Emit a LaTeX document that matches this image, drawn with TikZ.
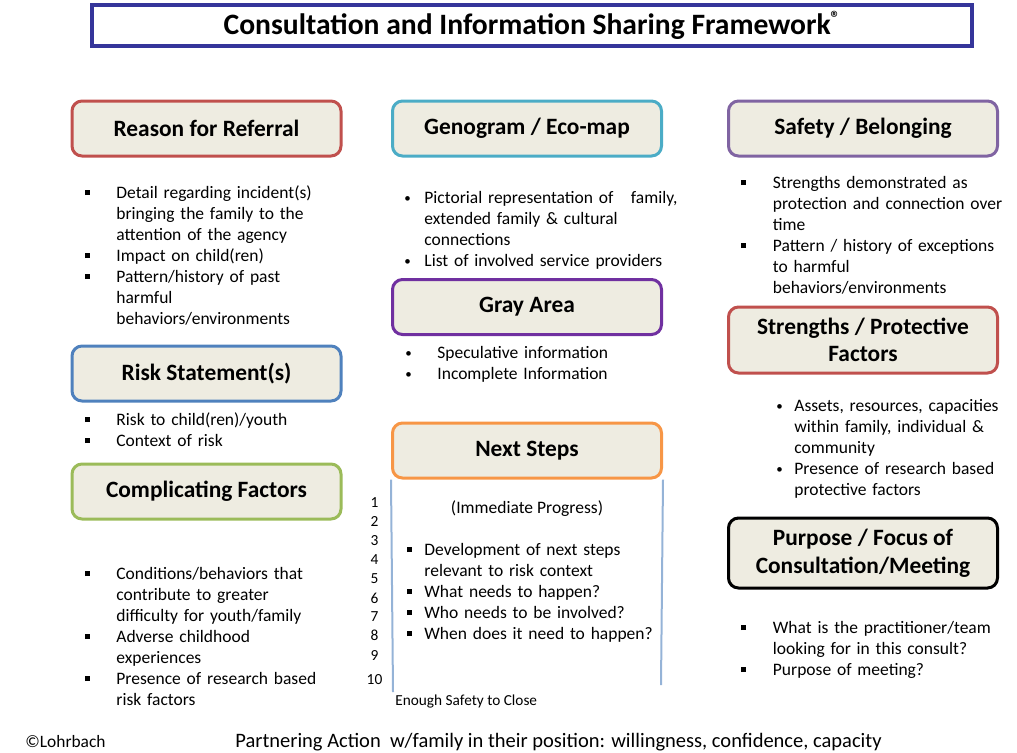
\documentclass[tikz,border=0pt]{standalone}
\usepackage{fontspec}
\setmainfont{Carlito}
\usetikzlibrary{positioning}

\definecolor{boxfill}{HTML}{EEECE1}
\definecolor{redline}{HTML}{C0504D}
\definecolor{aqualine}{HTML}{4BACC6}
\definecolor{purpleline}{HTML}{8064A2}
\definecolor{violetline}{HTML}{7030A0}
\definecolor{blueline}{HTML}{4F81BD}
\definecolor{greenline}{HTML}{9BBB59}
\definecolor{orangeline}{HTML}{F79646}
\definecolor{titleline}{HTML}{35359A}
\definecolor{stepline}{HTML}{95B3D7}

\newlength{\bgap}
\newcommand{\sqbul}{\rule[1.5pt]{2.5pt}{2.5pt}}
\newcommand{\rdbul}{\raisebox{0.5pt}{\fontsize{6.5}{6.5}\selectfont\textbullet}}
\newcommand{\nl}{\unskip\break}
\newcommand{\entry}[2]{\noindent\hangindent=\bgap\hangafter=1\makebox[\bgap][l]{#1}#2\par}

\begin{document}
\begin{tikzpicture}[x=0.5pt, y=-0.5pt]
		\tikzstyle{title_box} = [rectangle, draw=titleline, line width=2pt, minimum width=440pt, minimum height=20.5pt, inner sep=0pt, font=\fontsize{14.8}{17}\selectfont\bfseries]
		\tikzstyle{header_box} = [rectangle, rounded corners=5pt, draw, line width=1.5pt, fill=boxfill, minimum width=134.5pt, minimum height=27.5pt, inner sep=0pt, align=center, font=\fontsize{11.7}{13.75}\selectfont\bfseries]
		\tikzstyle{item_list} = [anchor=base west, inner sep=0pt, text width=160pt, align=left, font=\fontsize{8.75}{10.5}\selectfont]
		\tikzstyle{scale_num} = [inner sep=0pt, font=\fontsize{7.7}{9}\selectfont]
		\tikzstyle{scale_rule} = [draw=stepline, line width=1pt]
		\tikzstyle{foot_text} = [anchor=base west, inner sep=0pt]

		\useasboundingbox (0,0) rectangle (1017,752);

		% Title
		\node (title) [title_box] at (532,25.5) {Consultation and Information Sharing Framework\raisebox{5pt}{\fontsize{9.5}{10}\selectfont\textregistered}};

		% Left column
		\node (referral) [header_box, draw=redline] at (206.5,128.5) {Reason for Referral};
		\node (referral_list) [item_list] at (85,198) {\setlength{\bgap}{15.5pt}%
			\entry{\sqbul}{Detail regarding incident(s)\nl bringing the family to the\nl attention of the agency}%
			\entry{\sqbul}{Impact on child(ren)}%
			\entry{\sqbul}{Pattern/history of past\nl harmful\nl behaviors/environments}};
		\node (risk) [header_box, draw=blueline] at (206.5,373.5) {Risk Statement(s)};
		\node (risk_list) [item_list] at (85,425) {\setlength{\bgap}{15.5pt}%
			\entry{\sqbul}{Risk to child(ren)/youth}%
			\entry{\sqbul}{Context of risk}};
		\node (complicating) [header_box, draw=greenline] at (206.5,491.5) {Complicating Factors};
		\node (complicating_list) [item_list] at (85,579) {\setlength{\bgap}{15.5pt}%
			\entry{\sqbul}{Conditions/behaviors that\nl contribute to greater\nl difficulty for youth/family}%
			\entry{\sqbul}{Adverse childhood\nl experiences}%
			\entry{\sqbul}{Presence of research based\nl risk factors}};

		% Middle column
		\node (genogram) [header_box, draw=aqualine] at (527,128.5) {Genogram / Eco-map};
		\node (genogram_list) [item_list] at (404,203) {\setlength{\bgap}{10pt}%
			\entry{\rdbul}{Pictorial representation of~~~family,\nl extended family \& cultural\nl connections}%
			\entry{\rdbul}{List of involved service providers}};
		\node (gray) [header_box, draw=violetline] at (527,307) {Gray Area};
		\node (gray_list) [item_list] at (405,358) {\setlength{\bgap}{16pt}%
			\entry{\rdbul}{Speculative information}%
			\entry{\rdbul}{Incomplete Information}};
		\node (next) [header_box, draw=orangeline] at (527,450.5) {Next Steps};
		\node (next_sub) [anchor=base, inner sep=0pt, font=\fontsize{8.75}{10.5}\selectfont] at (527,513) {(Immediate Progress)};
		\node (next_list) [item_list] at (406.5,555) {\setlength{\bgap}{8.75pt}%
			\entry{\sqbul}{Development of next steps\nl relevant to risk context}%
			\entry{\sqbul}{What needs to happen?}%
			\entry{\sqbul}{Who needs to be involved?}%
			\entry{\sqbul}{When does it need to happen?}};
		% Scale beside next steps
		\coordinate (next_lend) at (393,692);
		\coordinate (next_rend) at (661,685);
		\draw[scale_rule] (next.south west) -- (next_lend);
		\draw[scale_rule] (next.south east) -- (next_rend);
		\foreach \n/\y in {1/502.7,2/521.7,3/541,4/560,5/578.7,6/598,7/616.7,8/635.3,9/655,10/680}
		\node (num\n) [scale_num] at (374.5,\y) {\n};
		\node (close) [anchor=base west, inner sep=0pt, font=\fontsize{7.65}{9}\selectfont] at (395,705) {Enough Safety to Close};

		% Right column
		\node (safety) [header_box, draw=purpleline] at (863,128.5) {Safety / Belonging};
		\node (safety_list) [item_list] at (740.5,188) {\setlength{\bgap}{16pt}%
			\entry{\sqbul}{Strengths demonstrated as\nl protection and connection over\nl time}%
			\entry{\sqbul}{Pattern / history of exceptions\nl to harmful\nl behaviors/environments}};
		\node (strengths) [header_box, draw=redline, minimum height=33pt] at (863,340) {Strengths / Protective\\ Factors};
		\node (strengths_list) [item_list] at (776,411) {\setlength{\bgap}{9pt}%
			\entry{\rdbul}{Assets, resources, capacities\nl within family, individual \&\nl community}%
			\entry{\rdbul}{Presence of research based\nl protective factors}};
		\node (purpose) [header_box, draw=black, minimum height=35pt, font=\fontsize{11.7}{14}\selectfont\bfseries] at (863,553) {Purpose / Focus of\\ Consultation/Meeting};
		\node (purpose_list) [item_list] at (740.5,633) {\setlength{\bgap}{16pt}%
			\entry{\sqbul}{What is the practitioner/team\nl looking for in this consult?}%
			\entry{\sqbul}{Purpose of meeting?}};

		% Footer
		\node (owner) [foot_text, font=\fontsize{8.7}{10}\selectfont] at (25,747) {\textcopyright Lohrbach};
		\node (partnering) [foot_text, font=\fontsize{10.25}{12}\selectfont] at (235,747) {Partnering Action~ w/family in their position: willingness, confidence, capacity};
\end{tikzpicture}
\end{document}
